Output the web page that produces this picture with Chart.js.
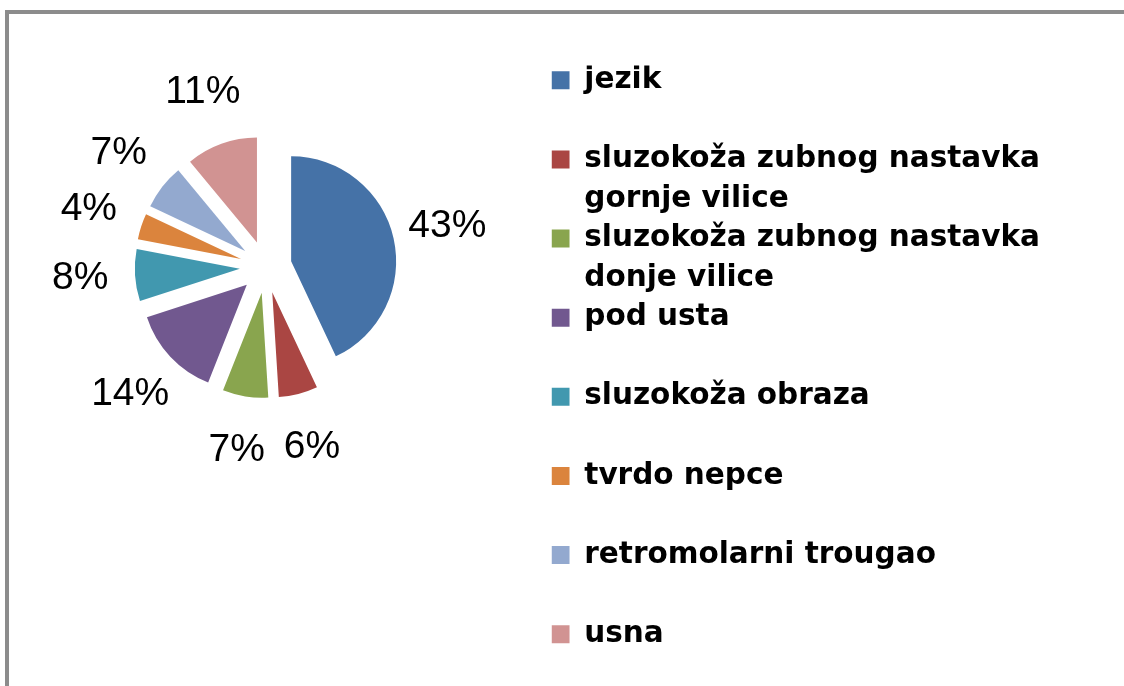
<!DOCTYPE html>
<html>
<head>
<meta charset="utf-8">
<script src="https://cdn.jsdelivr.net/npm/chart.js@4.4.1/dist/chart.umd.min.js"></script>
<style>
  html, body { margin: 0; padding: 0; background: #fff; }
  #wrap { position: relative; width: 1124px; height: 686px; overflow: hidden; }
  #frame {
    position: absolute; left: 5px; top: 10px; right: -20px; bottom: -20px;
    border-top: 4px solid #8c8c8c; border-left: 4px solid #8c8c8c;
    pointer-events: none;
  }
  /* canvas sits 20px to the left so the pie can use the full left margin */
  canvas { position: absolute; left: -20px; top: 0; }
</style>
</head>
<body>
<div id="wrap">
  <canvas id="LocalizationStats" width="1144" height="686"></canvas>
  <div id="frame"></div>
</div>
<script>
//
//
// Data
var categories = [
  'jezik',
  'sluzokoža zubnog nastavka\ngornje vilice',
  'sluzokoža zubnog nastavka\ndonje vilice',
  'pod usta',
  'sluzokoža obraza',
  'tvrdo nepce',
  'retromolarni trougao',
  'usna'
];
var percent_values = [43, 6, 7, 14, 8, 4, 7, 11];
var slice_colors = ['#4572A7', '#AA4643', '#89A54E', '#71588F', '#4198AF', '#DB843D', '#93A9CF', '#D19392'];

//
// Looks
var explode_distance = 26;
var pie_radius = 105;
var label_distance = 186;

//
//
// Pull every slice out from the center
var explodeSlices = {
  id: 'explodeSlices',
  beforeDatasetsDraw: function(chart) {
    var area = chart.chartArea;
    var cx = (area.left + area.right) / 2;
    var cy = (area.top + area.bottom) / 2;
    chart.getDatasetMeta(0).data.forEach(function(arc) {
      var mid = (arc.startAngle + arc.endAngle) / 2;
      arc.x = cx + Math.cos(mid) * explode_distance;
      arc.y = cy + Math.sin(mid) * explode_distance;
    });
  }
};

//
//
// Percent labels outside the slices
var percentLabels = {
  id: 'percentLabels',
  afterDatasetsDraw: function(chart) {
    var ctx = chart.ctx;
    var area = chart.chartArea;
    var cx = (area.left + area.right) / 2;
    var cy = (area.top + area.bottom) / 2;
    var total = percent_values.reduce(function(a, b) { return a + b; }, 0);

    ctx.save();
    ctx.font = '39px "Liberation Sans", Arial, sans-serif';
    ctx.fillStyle = '#000';
    ctx.textAlign = 'center';
    ctx.textBaseline = 'middle';
    chart.getDatasetMeta(0).data.forEach(function(arc, i) {
      var mid = (arc.startAngle + arc.endAngle) / 2;
      var txt = Math.round(percent_values[i] / total * 100) + '%';
      ctx.fillText(txt, cx + Math.cos(mid) * label_distance, cy + Math.sin(mid) * label_distance);
    });
    ctx.restore();
  }
};

//
//
// Draw Chart
var stats = document.getElementById('LocalizationStats').getContext('2d');

new Chart(stats, {
  type: 'pie',
  data: {
    labels: categories,
    datasets: [{
      data: percent_values,
      backgroundColor: slice_colors,
      borderWidth: 0,
      radius: pie_radius
    }]
  },
  options: {
    responsive: false,
    animation: false,
    devicePixelRatio: 1,
    layout: {
      padding: { left: 0, top: 65.5, right: 74, bottom: -25 }
    },
    plugins: {
      tooltip: { enabled: false },
      title: {
        // empty spacer under the pie
        display: true,
        position: 'bottom',
        text: '',
        padding: 0,
        font: { size: 12, lineHeight: '242.5px' }
      },
      legend: {
        position: 'right',
        align: 'start',
        labels: {
          boxWidth: 18,
          boxHeight: 18,
          padding: 0,
          color: '#000',
          font: { family: '"DejaVu Sans", sans-serif', size: 29.5, weight: 'bold', lineHeight: '39.57px' },
          generateLabels: function(chart) {
            return categories.map(function(name, i) {
              var lines = name.split('\n');
              if (lines.length < 2) lines.push('');
              return {
                text: lines,
                fillStyle: slice_colors[i],
                strokeStyle: slice_colors[i],
                lineWidth: 0,
                fontColor: '#000',
                hidden: false,
                index: i
              };
            });
          }
        }
      }
    }
  },
  plugins: [explodeSlices, percentLabels]
});
</script>
</body>
</html>
